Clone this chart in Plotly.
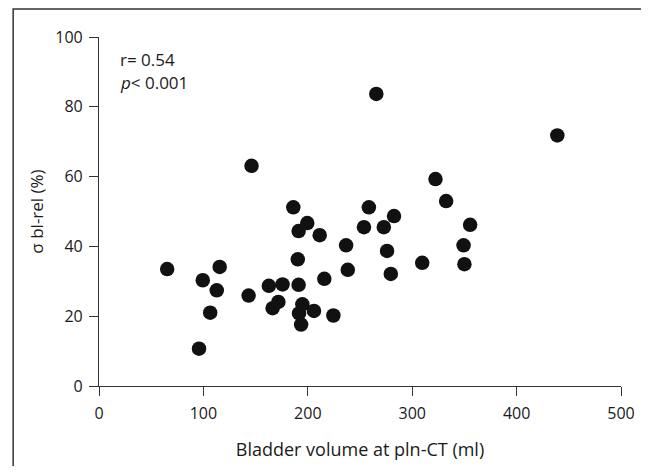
import plotly.graph_objects as go

bladder_volume_ml = [65.3, 95.8, 99.4, 106.5, 112.8, 115.6, 143.3, 146.1, 162.7, 166.3,
                     171.8, 175.8, 186.1, 190.4, 191.2, 191.2, 191.6, 193.6, 194.8, 199.5,
                     205.9, 211.4, 215.8, 224.5, 236.7, 238.3, 253.8, 258.5, 265.6, 272.8,
                     275.9, 279.5, 282.6, 309.6, 322.3, 332.5, 349.2, 350.0, 355.5, 439.0]
sigma_bl_rel = [33.5, 10.7, 30.3, 21.0, 27.4, 34.1, 25.9, 63.1, 28.7, 22.3,
                24.1, 29.1, 51.2, 36.3, 44.4, 29.0, 20.8, 17.6, 23.4, 46.7,
                21.5, 43.2, 30.7, 20.2, 40.3, 33.3, 45.5, 51.2, 83.7, 45.5,
                38.7, 32.1, 48.7, 35.3, 59.3, 53.0, 40.3, 34.9, 46.2, 71.8]

x_ticks = [0, 100, 200, 300, 400, 500]
y_ticks = [0, 20, 40, 60, 80, 100]

FONT = "Open Sans"
AX = "#333333"
OFF = 8  # page body margin offset

# target screen coords of plot area
PL, PR, PT, PB = 98.5, 621.5, 37, 386
W, H = 649 - OFF, 474 - 2 * OFF
PW, PH = PR - PL, PB - PT

fig = go.Figure()
fig.add_trace(go.Scatter(
    x=bladder_volume_ml, y=sigma_bl_rel, mode="markers",
    marker=dict(size=14.5, color="#111111", line=dict(width=0)),
    showlegend=False, cliponaxis=False,
))

fig.update_layout(
    width=W, height=H,
    margin=dict(l=PL - OFF, r=W - (PR - OFF), t=PT - OFF, b=H - (PB - OFF), pad=0),
    paper_bgcolor="white", plot_bgcolor="white",
    font=dict(family=FONT, size=16, color="#1a1a1a"),
    xaxis=dict(range=[0, 500], tickvals=x_ticks, ticks="outside", ticklen=9,
               tickwidth=1.2, tickcolor=AX, showline=True, linecolor=AX, linewidth=1.2,
               showgrid=False, zeroline=False, ticklabelstandoff=4, automargin=False,
               title=dict(text="Bladder volume at pln-CT (ml)", standoff=20,
                          font=dict(size=18)),
               tickfont=dict(size=16)),
    yaxis=dict(range=[0, 100], tickvals=y_ticks, ticks="outside", ticklen=9,
               tickwidth=1.2, tickcolor=AX, showline=True, linecolor=AX, linewidth=1.2,
               showgrid=False, zeroline=False, ticklabelstandoff=3, automargin=False,
               title=dict(text="σ bl-rel (%)", standoff=7, font=dict(size=17)),
               tickfont=dict(size=16)),
    shapes=[dict(type="rect", xref="paper", yref="paper",
                 x0=(12.5 - PL) / PW, x1=(642.5 - PL) / PW,
                 y0=(PB - 500) / PH, y1=(PB - 9) / PH,
                 line=dict(color="#333333", width=1.5), layer="above")],
    annotations=[
        dict(text="r= 0.54", xref="paper", yref="paper", x=(118 - PL) / PW,
             y=(PB - 60) / PH, xanchor="left", yanchor="middle", showarrow=False,
             font=dict(size=17)),
        dict(text="<i>p</i>< 0.001", xref="paper", yref="paper", x=(118 - PL) / PW,
             y=(PB - 83) / PH, xanchor="left", yanchor="middle", showarrow=False,
             font=dict(size=17)),
    ],
)

fig.write_html("out.html")
